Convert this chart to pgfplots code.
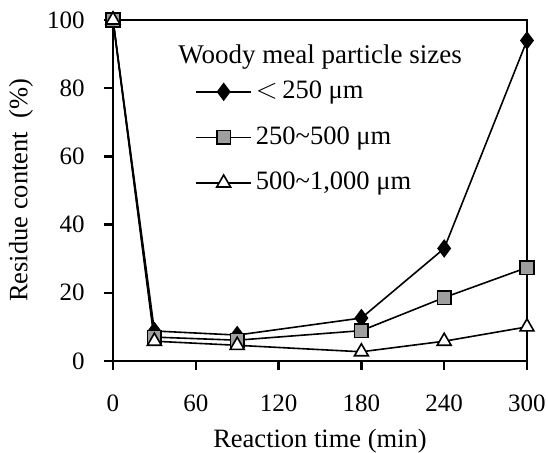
\documentclass[border=0pt]{standalone}
\usepackage{fontspec}
\setmainfont{Liberation Serif}
\usepackage{pgfplots}
\pgfplotsset{compat=1.18}

\begin{document}
\fontsize{13.25}{16}\selectfont
\begin{tikzpicture}
\begin{axis}[
  scale only axis,
  width=207pt, height=170.5pt,
  xmin=0, xmax=300, ymin=0, ymax=100,
  xtick={0,60,120,180,240,300},
  ytick={0,20,40,60,80,100},
  axis lines=left,
  axis line style={-, line width=1.4pt},
  tick align=outside,
  major tick length=4.5pt,
  tick style={line width=1.2pt, black},
  /pgf/number format/assume math mode=true,
  ticklabel style={font=\fontsize{12.5}{15}\selectfont, inner sep=0pt},
  xticklabel style={yshift=-12pt},
  yticklabel style={xshift=-9.5pt},
  xlabel={Reaction time (min)},
  ylabel={Residue content\ \ (\%)},
  label style={font=\fontsize{13.25}{16}\selectfont, inner sep=0pt},
  xlabel style={at={(axis description cs:0.5,-0.235)}, anchor=center},
  ylabel style={at={(axis description cs:-0.222,0.5)}, anchor=center},
  clip=false,
  legend style={draw=none, fill=none, at={(0.198,0.834)}, anchor=north west,
    inner sep=0pt, row sep=8pt, font=\fontsize{13.25}{16}\selectfont,
    cells={anchor=west}},
  legend image code/.code={\draw[mark repeat=2,mark phase=2,#1]
    plot coordinates {(0pt,0pt) (13.75pt,0pt) (27.5pt,0pt)};},
]
\coordinate (o) at (rel axis cs:0,0);
\draw[line width=0.7pt] (rel axis cs:0,1) -- (rel axis cs:1,1) -- (rel axis cs:1,0);
\addplot[black, line width=0.8pt, mark=diamond*, mark size=4pt,
  mark options={fill=black, solid}]
  coordinates {(0,100) (30,8.8) (90,7.6) (180,12.6) (240,33) (300,94)};
\addplot[black, line width=0.8pt, mark=square*, mark size=3.4pt,
  mark options={fill=black!38, solid}]
  coordinates {(0,100) (30,7) (90,6.1) (180,8.9) (240,18.6) (300,27.4)};
\addplot[black, line width=0.8pt, mark=triangle*, mark size=4pt,
  mark options={fill=white, solid}]
  coordinates {(0,100) (30,5.8) (90,4.6) (180,2.7) (240,5.8) (300,10)};
\legend{$<$\,250 μm, 250\textasciitilde500 μm, {500\textasciitilde1,000 μm}}
\node[anchor=west, inner sep=0pt, font=\fontsize{13.5}{16}\selectfont] at (rel axis cs:0.157,0.891)
  {Woody meal particle sizes};
\end{axis}
\pgfresetboundingbox
\path[use as bounding box] ([xshift=-56.5pt,yshift=-46pt]o) rectangle ([xshift=217.5pt,yshift=180.5pt]o);
\end{tikzpicture}
\end{document}
